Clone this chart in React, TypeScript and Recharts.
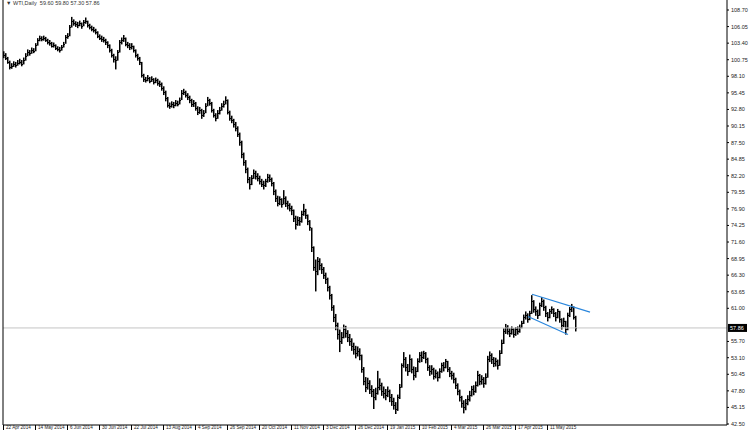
import React from "react"
import { ComposedChart, Bar, XAxis, YAxis, ReferenceLine } from "recharts"

// ── data ─────────────────────────────────────────────────────────────────────

const closes = [
  101.50, 101.05, 100.40, 99.60, 99.80, 100.10, 99.90, 100.25, 100.40, 100.10,
  100.70, 101.40, 102.00, 101.85, 102.30, 102.20, 103.10, 103.90, 104.25, 104.10,
  104.30, 103.90, 103.60, 103.45, 103.00, 103.10, 102.65, 102.50, 102.30, 102.80,
  103.30, 104.40, 104.60, 106.00, 106.95, 106.60, 106.45, 106.30, 106.60, 106.15,
  106.80, 106.95, 106.30, 106.00, 105.70, 105.50, 105.20, 104.55, 104.25, 104.10,
  103.90, 103.60, 103.10, 102.35, 101.50, 100.90, 100.70, 102.00, 103.60, 103.90,
  104.25, 103.30, 103.10, 102.80, 103.00, 102.30, 101.50, 101.05, 100.40, 98.35,
  97.70, 97.55, 97.85, 97.40, 97.70, 97.20, 97.55, 97.05, 96.90, 96.25,
  95.60, 94.65, 93.55, 93.40, 93.70, 93.55, 93.85, 93.70, 94.35, 95.50,
  95.60, 95.15, 94.80, 94.35, 93.70, 93.85, 93.10, 92.45, 92.75, 91.95,
  92.30, 93.40, 94.35, 93.85, 92.75, 91.95, 91.50, 92.30, 92.75, 93.40,
  93.70, 94.35, 92.45, 91.50, 91.15, 90.50, 89.90, 88.95, 87.65, 85.60,
  84.45, 83.20, 81.60, 80.95, 81.90, 82.70, 82.20, 81.90, 81.30, 80.95,
  80.65, 81.30, 82.05, 81.75, 81.10, 79.70, 78.70, 77.90, 78.40, 77.75,
  78.70, 77.90, 77.45, 77.10, 76.65, 75.50, 74.55, 75.20, 74.90, 76.15,
  76.50, 75.85, 74.90, 73.95, 70.75, 67.55, 66.90, 68.50, 67.85, 67.25,
  66.30, 65.65, 64.35, 63.10, 61.20, 59.60, 58.30, 56.85, 55.75, 56.40,
  57.65, 57.00, 56.40, 55.75, 54.95, 54.50, 53.85, 54.15, 53.50, 51.30,
  49.40, 48.40, 49.05, 48.10, 47.80, 46.80, 47.45, 48.40, 48.75, 47.80,
  47.45, 47.15, 47.80, 46.80, 46.20, 45.55, 44.90, 46.80, 48.40, 51.90,
  52.90, 51.60, 50.95, 52.90, 51.30, 50.30, 50.95, 52.55, 53.50, 53.20,
  53.85, 52.90, 51.60, 50.95, 51.30, 50.20, 50.65, 50.00, 50.95, 51.90,
  51.60, 52.55, 51.30, 50.65, 50.30, 49.70, 48.75, 47.80, 46.80, 45.85,
  45.20, 45.85, 46.50, 47.15, 48.10, 47.80, 48.75, 50.30, 49.40, 49.70,
  49.05, 50.00, 52.90, 53.50, 52.90, 52.25, 52.55, 51.90, 53.85, 55.45,
  57.35, 58.00, 57.35, 57.00, 57.65, 56.85, 57.65, 57.35, 58.00, 58.60,
  59.60, 59.90, 59.25, 60.20, 62.15, 60.85, 60.50, 59.90, 61.50, 62.15,
  61.20, 60.20, 59.60, 60.50, 60.85, 60.20, 59.60, 60.50, 59.25, 58.30,
  58.95, 57.65, 59.90, 60.85, 61.20, 59.60, 57.86,
]

const highs = [
  102.1, 101.8, 101.2, 100.6, 100.2, 100.5, 100.4, 100.7, 100.9, 100.7,
  101.1, 101.8, 102.4, 102.3, 102.7, 102.6, 103.4, 104.2, 104.6, 104.5,
  104.6, 104.4, 104.1, 103.9, 103.6, 103.5, 103.2, 102.9, 102.8, 103.1,
  103.6, 104.7, 105.0, 106.3, 107.6, 107.2, 106.9, 106.8, 107.0, 106.7,
  107.1, 107.5, 107.0, 106.5, 106.2, 106.0, 105.7, 105.3, 104.8, 104.6,
  104.4, 104.1, 103.7, 103.2, 102.5, 101.7, 101.3, 102.3, 103.9, 104.3,
  104.7, 104.3, 103.6, 103.4, 103.4, 103.0, 102.4, 101.7, 101.2, 100.4,
  98.5, 98.0, 98.3, 98.0, 98.1, 97.8, 97.9, 97.7, 97.4, 97.1,
  96.5, 95.8, 94.8, 93.9, 94.1, 94.0, 94.3, 94.2, 94.7, 95.9,
  96.1, 95.8, 95.4, 95.0, 94.5, 94.3, 94.0, 93.3, 93.2, 92.9,
  92.7, 93.8, 94.8, 94.5, 94.0, 92.9, 92.2, 92.7, 93.2, 93.8,
  94.2, 94.9, 94.4, 92.6, 91.8, 91.3, 90.8, 90.1, 89.1, 87.8,
  85.9, 84.7, 83.5, 82.0, 82.3, 83.2, 83.0, 82.6, 82.2, 81.7,
  81.4, 81.7, 82.5, 82.4, 81.9, 81.2, 80.0, 79.0, 78.9, 78.6,
  79.9, 78.9, 78.2, 77.8, 77.4, 76.8, 75.8, 75.7, 75.6, 76.6,
  77.7, 76.9, 76.0, 75.1, 73.9, 70.9, 68.8, 69.2, 69.0, 68.2,
  67.6, 66.7, 65.9, 64.6, 63.3, 61.5, 60.1, 58.7, 57.6, 57.2,
  58.4, 58.2, 57.5, 56.9, 56.2, 55.5, 55.0, 54.9, 54.6, 53.6,
  51.6, 50.0, 49.9, 49.5, 48.7, 48.1, 48.3, 51.0, 49.8, 49.1,
  48.5, 48.1, 48.5, 48.0, 47.3, 46.7, 46.0, 47.2, 48.9, 52.2,
  54.0, 53.2, 52.1, 53.6, 53.0, 51.7, 51.6, 53.0, 54.0, 54.1,
  54.2, 54.0, 53.1, 51.9, 51.9, 51.5, 51.2, 50.9, 51.4, 52.3,
  52.4, 52.9, 52.6, 51.6, 51.0, 50.7, 49.9, 49.0, 48.0, 47.0,
  46.3, 46.5, 47.1, 47.8, 48.6, 48.7, 49.3, 51.0, 50.5, 50.3,
  50.0, 50.6, 53.4, 54.1, 53.8, 53.2, 53.1, 52.8, 54.3, 56.0,
  57.8, 58.5, 58.3, 57.8, 58.1, 57.8, 58.0, 58.1, 58.4, 59.0,
  60.0, 60.5, 60.2, 60.6, 63.1, 62.3, 61.3, 60.8, 61.9, 62.8,
  62.4, 61.4, 60.4, 60.9, 61.3, 61.0, 60.4, 60.9, 60.6, 59.4,
  59.5, 59.0, 60.3, 61.2, 61.7, 61.3, 59.8,
]

const lows = [
  101.0, 100.7, 100.1, 99.2, 99.3, 99.6, 99.5, 99.8, 100.0, 99.7,
  100.0, 100.6, 101.3, 101.4, 101.7, 101.8, 102.1, 103.0, 103.7, 103.7,
  103.8, 103.6, 103.2, 103.0, 102.7, 102.7, 102.3, 102.1, 101.9, 102.2,
  102.7, 103.3, 104.1, 104.5, 105.9, 106.2, 106.0, 105.8, 106.1, 105.7,
  106.1, 106.5, 105.9, 105.6, 105.3, 105.1, 104.8, 104.2, 103.9, 103.6,
  103.5, 103.1, 102.6, 101.9, 101.1, 100.3, 99.2, 100.6, 101.9, 103.2,
  103.6, 102.9, 102.6, 102.3, 102.4, 101.9, 101.1, 100.6, 99.9, 97.9,
  97.2, 97.1, 97.3, 97.0, 97.2, 96.8, 97.0, 96.6, 96.4, 95.8,
  95.1, 94.1, 93.1, 92.9, 93.1, 93.0, 93.3, 93.3, 93.6, 94.3,
  95.1, 94.7, 94.3, 93.8, 93.2, 93.2, 92.6, 91.9, 92.1, 91.3,
  91.6, 92.2, 93.3, 93.4, 92.3, 91.5, 90.9, 91.3, 92.0, 92.6,
  93.1, 93.6, 92.0, 91.0, 90.6, 89.9, 89.3, 88.4, 87.0, 85.0,
  83.8, 82.6, 81.0, 80.0, 80.7, 81.7, 81.6, 81.3, 80.8, 80.4,
  80.0, 80.4, 81.1, 81.2, 80.5, 79.1, 78.0, 77.3, 77.5, 77.1,
  77.6, 77.2, 76.8, 76.5, 75.9, 74.8, 73.6, 74.2, 74.2, 74.7,
  75.8, 75.3, 74.3, 73.4, 70.0, 67.0, 63.7, 66.3, 67.1, 66.5,
  65.7, 64.9, 63.7, 62.4, 60.6, 58.8, 57.5, 56.0, 54.0, 55.3,
  56.2, 56.3, 55.6, 55.0, 54.2, 53.6, 53.0, 53.3, 52.7, 50.7,
  48.7, 47.6, 48.0, 47.3, 46.8, 44.9, 46.3, 47.2, 47.9, 47.0,
  46.6, 46.3, 46.8, 46.0, 45.4, 44.8, 44.1, 44.6, 46.5, 48.3,
  51.5, 50.9, 50.2, 50.8, 50.6, 49.5, 49.9, 50.8, 52.3, 52.4,
  52.9, 52.2, 51.0, 50.2, 50.4, 49.6, 49.8, 49.3, 49.8, 50.7,
  50.9, 51.4, 50.8, 50.0, 49.6, 49.0, 48.1, 47.1, 46.1, 45.1,
  44.2, 44.7, 45.5, 46.1, 46.9, 47.1, 47.5, 48.5, 48.7, 48.8,
  48.3, 48.8, 49.9, 52.4, 52.1, 51.6, 51.7, 51.2, 51.8, 53.7,
  55.3, 56.9, 56.8, 56.4, 56.8, 56.3, 56.6, 56.8, 57.1, 57.8,
  58.5, 59.2, 58.7, 59.1, 60.1, 60.3, 59.8, 59.3, 59.8, 61.2,
  60.6, 59.6, 58.9, 59.4, 60.1, 59.6, 58.9, 59.4, 58.7, 57.6,
  58.0, 56.8, 57.5, 59.6, 60.4, 59.2, 57.3,
]

const dateTickBars = [0, 16, 32, 48, 64, 80, 96, 112, 128, 144, 160, 176, 192, 208, 224, 240, 256, 272]
const dateLabels = [
  "22 Apr 2014", "14 May 2014", "6 Jun 2014", "30 Jun 2014", "22 Jul 2014", "13 Aug 2014",
  "4 Sep 2014", "26 Sep 2014", "20 Oct 2014", "11 Nov 2014", "3 Dec 2014", "26 Dec 2014",
  "19 Jan 2015", "10 Feb 2015", "4 Mar 2015", "26 Mar 2015", "17 Apr 2015", "11 May 2015",
]

const priceTicks = [
  108.70, 106.05, 103.40, 100.75, 98.10, 95.45, 92.80, 90.15, 87.50, 84.85, 82.20, 79.55, 76.90,
  74.25, 71.60, 68.95, 66.30, 63.65, 61.00, 55.70, 53.10, 50.45, 47.80, 45.15, 42.50,
]

const lastPrice = 57.86
const symbol = "WTI,Daily"
const headerOHLC = ["59.60", "59.80", "57.30", "57.86"]

// blue channel drawn on the last weeks
const channelUpper = [{ bar: 264, price: 63.25 }, { bar: 293, price: 60.38 }]
const channelLower = [{ bar: 262, price: 59.7 }, { bar: 282, price: 56.8 }]

// slots on the time axis incl. the empty chart-shift area on the right
const SLOTS = 362

// ── helpers ─────────────────────────────────────────────────────────────────

const FONT = '"Liberation Sans", Arial, sans-serif'
const INK = "#000"

const rows = Array.from({ length: SLOTS }, (_, i) =>
  i < closes.length
    ? { i, high: highs[i], low: lows[i], close: closes[i], range: [lows[i], highs[i]] }
    : { i }
)

function OhlcBar(props: any) {
  const { x, y, height, payload } = props
  if (!payload || payload.high == null) return null
  const top = Math.min(y, y + height)
  const bot = Math.max(y, y + height)
  const px = Math.round(x)
  const span = payload.high - payload.low
  const yc = span > 0 ? top + ((payload.high - payload.close) / span) * (bot - top) : top
  return (
    <g>
      <rect x={px} y={top} width={1.5} height={Math.max(1, bot - top)} fill={INK} />
      <rect x={px + 1} y={Math.round(yc)} width={1} height={1} fill={INK} />
    </g>
  )
}

function DateTick(props: any) {
  const { x, y, payload } = props
  const k = dateTickBars.indexOf(payload.value)
  if (k < 0) return null
  const tx = Math.round(x) - 1
  return (
    <g>
      <line x1={tx + 0.5} x2={tx + 0.5} y1={y} y2={y + 5} stroke={INK} />
      <text x={tx + 3} y={y + 0.5} fontSize={4.6} fontFamily={FONT} fill="#222" dominantBaseline="hanging">
        {dateLabels[k]}
      </text>
    </g>
  )
}

function PriceTick(props: any) {
  const { x, y, payload } = props
  return (
    <g>
      <line x1={x} x2={x + 2} y1={y} y2={y} stroke={INK} />
      <text x={x + 4} y={y} fontSize={5.5} fontFamily={FONT} fill="#222" dominantBaseline="central">
        {payload.value.toFixed(2)}
      </text>
    </g>
  )
}

function renderPriceTag(props: any) {
  const vb = props.viewBox || {}
  const ax = vb.x + vb.width
  return (
    <g>
      <rect x={ax + 1} y={vb.y - 4} width={19} height={8} fill="#000" />
      <text x={ax + 3} y={vb.y} fontSize={5.5} fontFamily={FONT} fill="#fff" dominantBaseline="central">
        {lastPrice.toFixed(2)}
      </text>
    </g>
  )
}

// ── chart ───────────────────────────────────────────────────────────────────

export default function App() {
  return (
    <div style={{ position: "absolute", left: 0, top: 0, width: 750, height: 430, background: "#fff", overflow: "hidden" }}>
      <ComposedChart
        width={750}
        height={430}
        data={rows}
        margin={{ top: 0, right: 0, bottom: 0, left: 0 }}
        barCategoryGap={0}
        barGap={0}
      >
        <XAxis
          dataKey="i"
          type="category"
          ticks={dateTickBars}
          interval={0}
          height={5}
          tickSize={0}
          tickMargin={0}
          tickLine={false}
          axisLine={{ stroke: INK }}
          tick={<DateTick />}
        />
        <YAxis yAxisId="l" orientation="left" width={3} domain={[0, 1]} tick={false} tickLine={false} axisLine={{ stroke: INK }} />
        <YAxis
          yAxisId="p"
          orientation="right"
          width={23}
          domain={[42.34, 110.3]}
          allowDataOverflow
          ticks={priceTicks}
          interval={0}
          tickSize={0}
          tickMargin={0}
          tickLine={false}
          axisLine={{ stroke: INK }}
          tick={<PriceTick />}
        />
        <ReferenceLine yAxisId="p" y={lastPrice} stroke="#c4c4c4" label={renderPriceTag} />
        <Bar yAxisId="p" dataKey="range" shape={<OhlcBar />} isAnimationActive={false} />
        <ReferenceLine
          yAxisId="p"
          segment={[{ x: channelUpper[0].bar, y: channelUpper[0].price }, { x: channelUpper[1].bar, y: channelUpper[1].price }]}
          stroke="#2a86dc"
          strokeWidth={1.2}
          ifOverflow="visible"
        />
        <ReferenceLine
          yAxisId="p"
          segment={[{ x: channelLower[0].bar, y: channelLower[0].price }, { x: channelLower[1].bar, y: channelLower[1].price }]}
          stroke="#2a86dc"
          strokeWidth={1.2}
          ifOverflow="visible"
        />
      </ComposedChart>
      <div style={{ position: "absolute", left: 6, top: 0, fontSize: 5.5, lineHeight: "6px", fontFamily: FONT, color: "#333", whiteSpace: "pre" }}>
        {"▼ " + symbol + "  " + headerOHLC.join(" ")}
      </div>
    </div>
  )
}
